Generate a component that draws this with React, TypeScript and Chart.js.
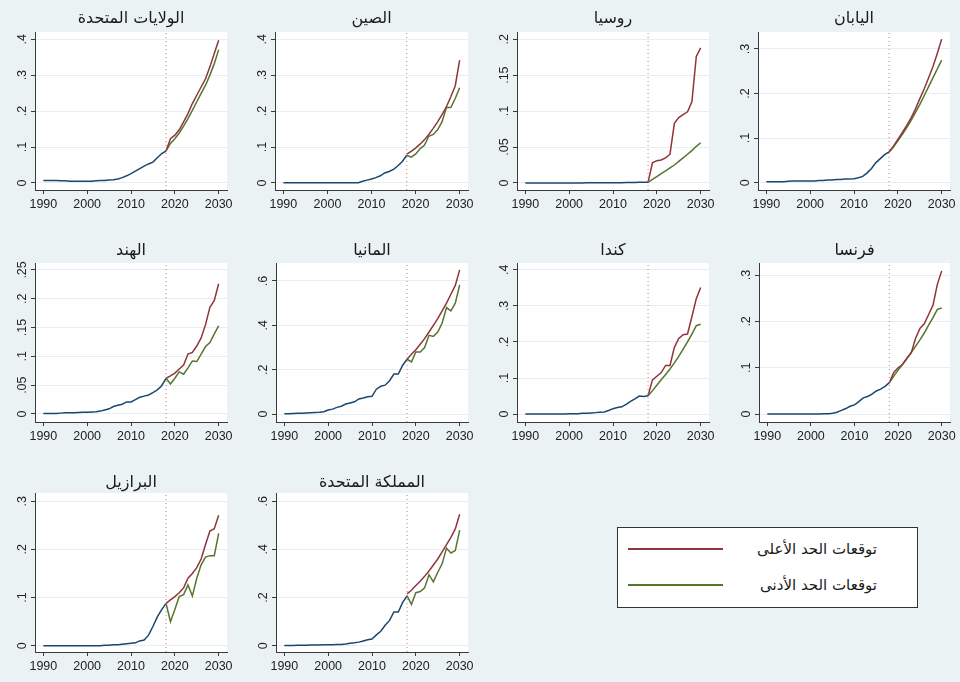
import React, { useEffect, useRef } from "react";
import { Chart, registerables } from "chart.js";
Chart.register(...registerables);

// ---------- DATA ----------
const YEARS = [
  1990, 1991, 1992, 1993, 1994, 1995, 1996, 1997, 1998, 1999,
  2000, 2001, 2002, 2003, 2004, 2005, 2006, 2007, 2008, 2009,
  2010, 2011, 2012, 2013, 2014, 2015, 2016, 2017, 2018, 2019,
  2020, 2021, 2022, 2023, 2024, 2025, 2026, 2027, 2028, 2029, 2030,
];
const X_TICKS = [1990, 2000, 2010, 2020, 2030];
const PROJ_START = 2018;

const LEGEND_HIGH = "توقعات الحد الأعلى";
const LEGEND_LOW = "توقعات الحد الأدنى";

// United States
const usHist = [0.007, 0.007, 0.007, 0.007, 0.006, 0.006, 0.005, 0.005, 0.005, 0.005, 0.005, 0.005, 0.006, 0.007, 0.007, 0.008, 0.009, 0.011, 0.015, 0.02, 0.026, 0.033, 0.04, 0.047, 0.053, 0.058, 0.07, 0.082, 0.089];
const usHigh = [0.089, 0.123, 0.133, 0.148, 0.17, 0.193, 0.221, 0.244, 0.267, 0.29, 0.323, 0.36, 0.397];
const usLow = [0.089, 0.11, 0.123, 0.139, 0.158, 0.179, 0.202, 0.226, 0.249, 0.272, 0.3, 0.332, 0.371];
const usTicks = [0, 0.1, 0.2, 0.3, 0.4];

// China
const cnHist = [0.001, 0.001, 0.001, 0.001, 0.001, 0.001, 0.001, 0.001, 0.001, 0.001, 0.001, 0.001, 0.001, 0.001, 0.001, 0.001, 0.001, 0.001, 0.005, 0.008, 0.011, 0.015, 0.02, 0.028, 0.032, 0.038, 0.048, 0.06, 0.077];
const cnHigh = [0.08, 0.088, 0.097, 0.108, 0.12, 0.135, 0.152, 0.17, 0.19, 0.212, 0.24, 0.27, 0.342];
const cnLow = [0.077, 0.072, 0.08, 0.095, 0.105, 0.13, 0.135, 0.148, 0.17, 0.21, 0.21, 0.235, 0.265];
const cnTicks = [0, 0.1, 0.2, 0.3, 0.4];

// Russia
const ruHist = [0, 0, 0, 0, 0, 0, 0, 0, 0, 0, 0, 0, 0, 0, 0.0005, 0.0005, 0.0005, 0.0005, 0.0005, 0.0005, 0.0005, 0.0005, 0.0005, 0.0007, 0.0008, 0.0008, 0.0009, 0.001, 0.001];
const ruHigh = [0.001, 0.028, 0.031, 0.032, 0.035, 0.04, 0.083, 0.091, 0.095, 0.099, 0.113, 0.176, 0.188];
const ruLow = [0.001, 0.005, 0.009, 0.013, 0.017, 0.021, 0.025, 0.03, 0.035, 0.04, 0.045, 0.051, 0.056];
const ruTicks = [0, 0.05, 0.1, 0.15, 0.2];

// Japan
const jpHist = [0.002, 0.002, 0.002, 0.002, 0.002, 0.003, 0.004, 0.004, 0.004, 0.004, 0.004, 0.004, 0.005, 0.005, 0.006, 0.006, 0.007, 0.007, 0.008, 0.008, 0.009, 0.011, 0.014, 0.022, 0.032, 0.045, 0.054, 0.063, 0.069];
const jpHigh = [0.069, 0.082, 0.097, 0.112, 0.128, 0.145, 0.165, 0.188, 0.21, 0.235, 0.26, 0.29, 0.322];
const jpLow = [0.069, 0.08, 0.094, 0.108, 0.123, 0.139, 0.157, 0.175, 0.195, 0.215, 0.235, 0.255, 0.275];
const jpTicks = [0, 0.1, 0.2, 0.3];

// India
const inHist = [0.001, 0.001, 0.001, 0.001, 0.0015, 0.002, 0.002, 0.002, 0.0025, 0.003, 0.003, 0.0035, 0.004, 0.005, 0.007, 0.009, 0.013, 0.015, 0.017, 0.021, 0.021, 0.025, 0.029, 0.031, 0.033, 0.037, 0.042, 0.049, 0.062];
const inHigh = [0.062, 0.066, 0.071, 0.078, 0.085, 0.104, 0.107, 0.118, 0.132, 0.155, 0.185, 0.197, 0.226];
const inLow = [0.062, 0.052, 0.062, 0.073, 0.069, 0.08, 0.092, 0.091, 0.104, 0.117, 0.124, 0.139, 0.153];
const inTicks = [0, 0.05, 0.1, 0.15, 0.2, 0.25];

// Germany
const deHist = [0.001, 0.001, 0.002, 0.003, 0.004, 0.005, 0.006, 0.007, 0.008, 0.01, 0.018, 0.022, 0.03, 0.035, 0.045, 0.05, 0.055, 0.068, 0.072, 0.078, 0.08, 0.112, 0.125, 0.13, 0.15, 0.18, 0.18, 0.22, 0.247];
const deHigh = [0.247, 0.27, 0.29, 0.315, 0.34, 0.37, 0.4, 0.43, 0.465, 0.5, 0.54, 0.58, 0.65];
const deLow = [0.247, 0.235, 0.28, 0.28, 0.3, 0.355, 0.35, 0.37, 0.41, 0.48, 0.465, 0.5, 0.582];
const deTicks = [0, 0.2, 0.4, 0.6];

// Canada
const caHist = [0, 0, 0, 0, 0, 0, 0, 0, 0, 0, 0.001, 0.001, 0.001, 0.002, 0.002, 0.003, 0.004, 0.005, 0.006, 0.01, 0.015, 0.018, 0.02, 0.027, 0.035, 0.042, 0.05, 0.049, 0.051];
const caHigh = [0.051, 0.095, 0.105, 0.115, 0.135, 0.135, 0.185, 0.21, 0.22, 0.222, 0.27, 0.32, 0.351];
const caLow = [0.051, 0.065, 0.08, 0.095, 0.11, 0.125, 0.142, 0.16, 0.18, 0.2, 0.222, 0.245, 0.249];
const caTicks = [0, 0.1, 0.2, 0.3, 0.4];

// France
const frHist = [0, 0, 0, 0, 0, 0, 0, 0, 0, 0, 0, 0, 0, 0.001, 0.001, 0.002, 0.004, 0.008, 0.012, 0.017, 0.02, 0.027, 0.035, 0.038, 0.043, 0.05, 0.054, 0.06, 0.068];
const frHigh = [0.068, 0.09, 0.1, 0.107, 0.12, 0.132, 0.163, 0.185, 0.195, 0.215, 0.235, 0.28, 0.309];
const frLow = [0.068, 0.082, 0.095, 0.107, 0.12, 0.133, 0.146, 0.16, 0.175, 0.192, 0.208, 0.226, 0.229];
const frTicks = [0, 0.1, 0.2, 0.3];

// Brazil
const brHist = [0, 0, 0, 0, 0, 0, 0, 0, 0, 0, 0, 0, 0, 0, 0.001, 0.001, 0.002, 0.002, 0.003, 0.004, 0.005, 0.006, 0.01, 0.012, 0.022, 0.04, 0.06, 0.075, 0.088];
const brHigh = [0.088, 0.095, 0.102, 0.11, 0.12, 0.14, 0.15, 0.162, 0.18, 0.21, 0.238, 0.243, 0.271];
const brLow = [0.088, 0.05, 0.075, 0.102, 0.106, 0.126, 0.103, 0.14, 0.168, 0.184, 0.187, 0.187, 0.233];
const brTicks = [0, 0.1, 0.2, 0.3];

// United Kingdom
const ukHist = [0.001, 0.001, 0.001, 0.002, 0.002, 0.002, 0.003, 0.003, 0.003, 0.004, 0.004, 0.004, 0.005, 0.005, 0.007, 0.01, 0.012, 0.015, 0.02, 0.025, 0.028, 0.045, 0.06, 0.085, 0.105, 0.14, 0.14, 0.18, 0.207];
const ukHigh = [0.215, 0.23, 0.25, 0.268, 0.288, 0.31, 0.335, 0.36, 0.39, 0.42, 0.45, 0.485, 0.546];
const ukLow = [0.207, 0.172, 0.22, 0.225, 0.24, 0.295, 0.265, 0.305, 0.34, 0.405, 0.385, 0.395, 0.48];
const ukTicks = [0, 0.2, 0.4, 0.6];

// ---------- STYLE / LAYOUT ----------
const BG = "#eaf2f3";
const BLUE = "#1a476f";
const RED = "#90353b";
const GREEN = "#55752f";
const AXIS = "#3a3a3a";
const GRID = "#e6eef0";
const VLINE = "#d07878";
const LATIN = "'Liberation Sans', Arial, sans-serif";
const ARABIC = "'DejaVu Sans', sans-serif";

const ROWS = [
  { top: 0, height: 220, padTop: 9.4, padBottom: 3.4, plotBottom: 190 },
  { top: 220, height: 230, padTop: 21.4, padBottom: 2.4, plotBottom: 202 },
  { top: 450, height: 232, padTop: 23.4, padBottom: 0.4, plotBottom: 202 },
];

type PanelCfg = {
  title: string;
  hist: number[];
  high: number[];
  low: number[];
  ticks: number[];
  yMin: number;
  yMax: number;
  col: number;
  row: number;
  plotLeft: number;
  plotRight: number;
};

const PANELS: PanelCfg[] = [
  { title: "الولايات المتحدة", hist: usHist, high: usHigh, low: usLow, ticks: usTicks, yMin: -0.0195, yMax: 0.42, col: 0, row: 0, plotLeft: 35, plotRight: 227 },
  { title: "الصين", hist: cnHist, high: cnHigh, low: cnLow, ticks: cnTicks, yMin: -0.0195, yMax: 0.42, col: 1, row: 0, plotLeft: 35, plotRight: 228 },
  { title: "روسيا", hist: ruHist, high: ruHigh, low: ruLow, ticks: ruTicks, yMin: -0.00975, yMax: 0.21, col: 2, row: 0, plotLeft: 37, plotRight: 229 },
  { title: "اليابان", hist: jpHist, high: jpHigh, low: jpLow, ticks: jpTicks, yMin: -0.0164, yMax: 0.338, col: 3, row: 0, plotLeft: 38, plotRight: 230 },
  { title: "الهند", hist: inHist, high: inHigh, low: inLow, ticks: inTicks, yMin: -0.0139, yMax: 0.262, col: 0, row: 1, plotLeft: 35, plotRight: 227 },
  { title: "المانيا", hist: deHist, high: deHigh, low: deLow, ticks: deTicks, yMin: -0.036, yMax: 0.681, col: 1, row: 1, plotLeft: 36, plotRight: 228 },
  { title: "كندا", hist: caHist, high: caHigh, low: caLow, ticks: caTicks, yMin: -0.022, yMax: 0.419, col: 2, row: 1, plotLeft: 37, plotRight: 229 },
  { title: "فرنسا", hist: frHist, high: frHigh, low: frLow, ticks: frTicks, yMin: -0.017, yMax: 0.326, col: 3, row: 1, plotLeft: 39, plotRight: 230 },
  { title: "البرازيل", hist: brHist, high: brHigh, low: brLow, ticks: brTicks, yMin: -0.013, yMax: 0.317, col: 0, row: 2, plotLeft: 35, plotRight: 227 },
  { title: "المملكة المتحدة", hist: ukHist, high: ukHigh, low: ukLow, ticks: ukTicks, yMin: -0.026, yMax: 0.634, col: 1, row: 2, plotLeft: 36, plotRight: 228 },
];

const fmtY = (v: number) => (v === 0 ? "0" : String(v).replace(/^0/, ""));

const plotBgPlugin = {
  id: "plotBg",
  beforeDraw(chart: any) {
    const { ctx, chartArea } = chart;
    ctx.save();
    ctx.fillStyle = BG;
    ctx.fillRect(0, 0, chart.width, chart.height);
    ctx.fillStyle = "#ffffff";
    ctx.fillRect(chartArea.left, chartArea.top, chartArea.right - chartArea.left, chartArea.bottom - chartArea.top);
    ctx.restore();
  },
};

const yLabelPlugin = {
  id: "yLabels",
  afterDraw(chart: any) {
    const { ctx, chartArea } = chart;
    const ys = chart.scales.y;
    ctx.save();
    ctx.font = `12.5px ${LATIN}`;
    ctx.fillStyle = "#222222";
    ctx.textAlign = "center";
    ctx.textBaseline = "middle";
    for (const t of ys.ticks) {
      const y = ys.getPixelForValue(t.value);
      ctx.save();
      ctx.translate(chartArea.left - 12, y);
      ctx.rotate(-Math.PI / 2);
      ctx.fillText(fmtY(t.value), 0, 0);
      ctx.restore();
    }
    ctx.restore();
  },
};

function Panel({ cfg }: { cfg: PanelCfg }) {
  const ref = useRef<HTMLCanvasElement | null>(null);
  const row = ROWS[cfg.row];
  useEffect(() => {
    if (!ref.current) return;
    const histPts = cfg.hist.map((v, i) => ({ x: YEARS[i], y: v }));
    const off = YEARS.indexOf(PROJ_START);
    const highPts = cfg.high.map((v, i) => ({ x: YEARS[off + i], y: v }));
    const lowPts = cfg.low.map((v, i) => ({ x: YEARS[off + i], y: v }));
    const chart = new Chart(ref.current, {
      type: "line",
      data: {
        datasets: [
          { data: [{ x: PROJ_START, y: cfg.yMin }, { x: PROJ_START, y: cfg.yMax }], borderColor: VLINE, borderWidth: 1, borderDash: [1, 3], pointRadius: 0 },
          { data: highPts, borderColor: RED, borderWidth: 1.5, pointRadius: 0, tension: 0 },
          { data: lowPts, borderColor: GREEN, borderWidth: 1.5, pointRadius: 0, tension: 0 },
          { data: histPts, borderColor: BLUE, borderWidth: 1.5, pointRadius: 0, tension: 0 },
        ],
      },
      options: {
        animation: false,
        responsive: false,
        devicePixelRatio: 1,
        events: [],
        layout: { padding: { left: 0, top: 0, bottom: 0, right: 240 - cfg.plotRight } },
        plugins: {
          legend: { display: false },
          tooltip: { enabled: false },
          title: {
            display: true,
            text: cfg.title,
            fullSize: false,
            color: "#1a1a1a",
            font: { family: ARABIC, size: 16, weight: "normal", lineHeight: 1.2 },
            padding: { top: row.padTop, bottom: row.padBottom },
          },
        },
        scales: {
          x: {
            type: "linear",
            min: 1988.1,
            max: 2031.9,
            afterBuildTicks: (s: any) => {
              s.ticks = X_TICKS.map((v) => ({ value: v }));
            },
            afterFit: (s: any) => {
              s.height = row.height - row.plotBottom;
            },
            grid: { drawOnChartArea: false, drawTicks: true, tickLength: 4, tickColor: AXIS },
            border: { display: true, color: AXIS, width: 1 },
            ticks: {
              color: "#222222",
              font: { family: LATIN, size: 12.5 },
              padding: 3,
              maxRotation: 0,
              minRotation: 0,
              autoSkip: false,
              callback: (v: any) => String(v),
            },
          },
          y: {
            type: "linear",
            min: cfg.yMin,
            max: cfg.yMax,
            afterBuildTicks: (s: any) => {
              s.ticks = cfg.ticks.map((v) => ({ value: v }));
            },
            afterFit: (s: any) => {
              s.width = cfg.plotLeft;
            },
            grid: { color: GRID, lineWidth: 1, drawTicks: true, tickLength: 4, tickColor: AXIS },
            border: { display: true, color: AXIS, width: 1 },
            ticks: { display: false },
          },
        },
      },
      plugins: [plotBgPlugin, yLabelPlugin],
    } as any);
    return () => chart.destroy();
  }, []);
  return (
    <div style={{ position: "absolute", left: cfg.col * 240, top: row.top, width: 240, height: row.height }}>
      <canvas ref={ref} width={240} height={row.height} style={{ display: "block" }} />
    </div>
  );
}

function Legend() {
  const item = (label: string, color: string, y: number) => (
    <div style={{ position: "absolute", left: 0, top: y - 12, width: 301, height: 24 }}>
      <div style={{ position: "absolute", left: 10, top: 11, width: 95, height: 2, background: color }} />
      <div
        dir="rtl"
        style={{ position: "absolute", right: 42, top: 0, height: 24, lineHeight: "24px", fontFamily: ARABIC, fontSize: 15, color: "#1a1a1a", whiteSpace: "nowrap" }}
      >
        {label}
      </div>
    </div>
  );
  return (
    <div style={{ position: "absolute", left: 617, top: 527, width: 299, height: 79, border: "1px solid #333", background: "#ffffff" }}>
      {item(LEGEND_HIGH, RED, 21)}
      {item(LEGEND_LOW, GREEN, 57)}
    </div>
  );
}

export default function App() {
  return (
    <div style={{ position: "fixed", left: 0, top: 0, width: 960, height: 682, background: BG, overflow: "hidden" }}>
      {PANELS.map((p, i) => (
        <Panel key={i} cfg={p} />
      ))}
      <Legend />
    </div>
  );
}
